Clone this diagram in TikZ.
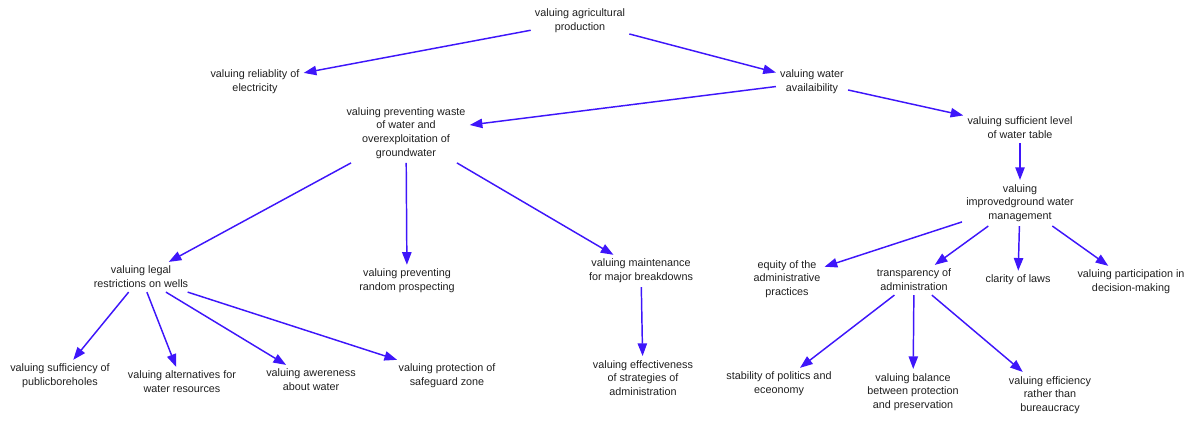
\documentclass[tikz,border=0pt]{standalone}
\usepackage{fontspec}
\setmainfont{Liberation Sans}
\usetikzlibrary{arrows.meta}
\definecolor{linkblue}{RGB}{62,22,250}
\begin{document}
\begin{tikzpicture}[x=0.75pt,y=-0.75pt,
  concept/.style={align=center,inner sep=3pt,text=black!88,
    font=\fontsize{8.1}{10.3}\selectfont},
  link/.style={draw=linkblue,line width=1.1pt,
    -{Triangle[length=9.5pt,width=7pt]}}]
\useasboundingbox (0,0) rectangle (1188,421);

% concepts
\node[concept] (agri)  at (580,21)  {valuing agricultural\\production};
\node[concept] (elec)  at (255,82)  {valuing reliablity of\\electricity};
\node[concept] (avail) at (812,82)  {valuing water\\availaibility};
\node[concept] (waste) at (406,133) {valuing preventing waste\\of water and\\overexploitation of\\groundwater};
\node[concept] (table) at (1020,128) {valuing sufficient level\\of water table};
\node[concept] (mgmt)  at (1020,203) {valuing\\improvedground water\\management};
\node[concept] (legal) at (141,277) {valuing legal\\restrictions on wells};
\node[concept] (prosp) at (407,281) {valuing preventing\\random prospecting};
\node[concept] (maint) at (641,271) {valuing maintenance\\for major breakdowns};
\node[concept] (equity) at (787,279) {equity of the\\administrative\\practices};
\node[concept] (transp) at (914,280) {transparency of\\administration};
\node[concept] (laws)  at (1018,280) {clarity of laws};
\node[concept] (partic) at (1131,282) {valuing participation in\\decision-making};
\node[concept] (bore)  at (60,376)  {valuing sufficiency of\\publicboreholes};
\node[concept] (alter) at (182,382) {valuing alternatives for\\water resources};
\node[concept] (aware) at (311,380) {valuing awereness\\about water};
\node[concept] (zone)  at (447,376) {valuing protection of\\safeguard zone};
\node[concept] (effect) at (643,378) {valuing effectiveness\\of strategies of\\administration};
\node[concept] (stab)  at (779,384) {stability of politics and\\eceonomy};
\node[concept] (bal)   at (913,392) {valuing balance\\between protection\\and preservation};
\node[concept] (effic) at (1050,395) {valuing efficiency\\rather than\\bureaucracy};

% links
\draw[link] (agri) -- (elec);
\draw[link] (agri) -- (avail);
\draw[link] (avail) -- (waste);
\draw[link] (avail) -- (table);
\draw[link] (table) -- (mgmt);
\draw[link] (mgmt) -- (equity);
\draw[link] (mgmt) -- (transp);
\draw[link] (mgmt) -- (laws);
\draw[link] (mgmt) -- (partic);
\draw[link] (waste) -- (legal);
\draw[link] (waste) -- (prosp);
\draw[link] (waste) -- (maint);
\draw[link] (maint) -- (effect);
\draw[link] (transp) -- (stab);
\draw[link] (transp) -- (bal);
\draw[link] (transp) -- (effic);
\draw[link] (legal) -- (bore);
\draw[link] (legal) -- (alter);
\draw[link] (legal) -- (aware);
\draw[link] (legal) -- (zone);
\end{tikzpicture}
\end{document}
